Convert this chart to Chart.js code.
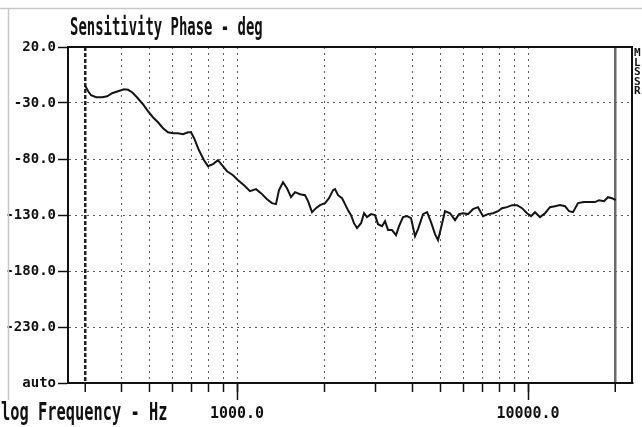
<!DOCTYPE html>
<html lang="en">
<head>
    <meta charset="UTF-8">
    <title>Sensitivity Phase</title>
    <style>
        html, body { margin: 0; padding: 0; background: #fff; }
        #grafico { display: block; }
    </style>
</head>
<body>
    <canvas id="grafico" width="642" height="427"></canvas>

    <script src="https://cdn.jsdelivr.net/npm/chart.js"></script>
    <script>
        // values
        const freqHz = [
            300, 308, 315, 328, 344, 358, 372, 390, 409, 422,
            436, 453, 475, 495, 514, 535, 557, 579, 603, 627,
            652, 679, 695, 712, 740, 770, 795, 827, 860, 888,
            924, 969, 1008, 1057, 1108, 1162, 1209, 1268, 1319, 1361,
            1394, 1439, 1485, 1533, 1582, 1646, 1713, 1754, 1810, 1868,
            1928, 2006, 2071, 2138, 2172, 2224, 2296, 2350, 2407, 2465,
            2523, 2584, 2668, 2732, 2797, 2887, 2980, 3051, 3150, 3226,
            3303, 3409, 3519, 3604, 3719, 3839, 3962, 4090, 4188, 4358,
            4498, 4642, 4791, 4906, 5023, 5185, 5395, 5613, 5793, 5978,
            6219, 6471, 6732, 7004, 7287, 7581, 7888, 8142, 8470, 8811,
            9168, 9537, 9921, 10240, 10570, 11000, 11440, 11900, 12380, 12880,
            13400, 13830, 14280, 14850, 15570, 16330, 16990, 17540, 18250, 18830,
            19440, 20000
        ];
        const phaseDeg = [
            -14.2, -19.5, -23.1, -24.9, -24.9, -24.0, -21.3, -19.5, -17.7, -18.2,
            -20.4, -24.9, -31.1, -37.4, -42.7, -47.2, -52.5, -56.1, -57.0, -57.0,
            -57.9, -56.1, -56.1, -61.4, -72.2, -81.1, -86.4, -84.6, -81.1, -85.5,
            -90.9, -94.5, -98.9, -103.4, -108.7, -106.9, -110.5, -115.9, -119.4, -120.3,
            -107.8, -100.7, -106.1, -114.1, -109.6, -111.4, -112.3, -117.6, -127.5, -123.9,
            -121.2, -119.4, -115.0, -107.8, -106.9, -112.3, -115.0, -120.3, -125.7, -130.1,
            -137.3, -141.7, -137.3, -128.4, -131.9, -129.2, -130.1, -138.2, -140.0, -135.5,
            -143.5, -143.5, -148.0, -140.0, -131.9, -131.0, -132.8, -148.9, -142.6, -129.2,
            -127.5, -136.4, -147.1, -152.4, -141.7, -126.6, -128.4, -134.6, -129.2, -128.4,
            -129.2, -124.8, -123.0, -131.0, -129.2, -128.4, -126.6, -123.9, -123.0, -121.2,
            -121.2, -123.9, -128.4, -131.0, -127.5, -131.9, -128.4, -123.0, -122.1, -121.2,
            -122.1, -126.6, -127.5, -119.4, -118.5, -118.5, -118.5, -116.8, -117.6, -114.1,
            -115.0, -116.8
        ];

        const gridFreqs = [300, 400, 500, 600, 700, 800, 900, 1000,
                           2000, 3000, 4000, 5000, 6000, 7000, 8000, 9000, 10000, 20000];
        const freqLabels = { 1000: '1000.0', 10000: '10000.0' };
        const markerFreqs = [300, 20000];
        const phaseTicks = [20, -30, -80, -130, -180, -230, -280];

        const monoFont = '"DejaVu Sans Mono", "Liberation Mono", monospace';

        // frame, long decade ticks and the plotter's text
        const moldura = {
            id: 'moldura',
            afterDraw(chart) {
                const { ctx, chartArea: a, scales: { x } } = chart;
                ctx.save();

                // edges of the scanned sheet
                ctx.strokeStyle = '#c6c6c6';
                ctx.lineWidth = 1.5;
                ctx.beginPath();
                ctx.moveTo(0, 8.5); ctx.lineTo(642, 8.5);
                ctx.moveTo(8.5, 8.5); ctx.lineTo(8.5, 400);
                ctx.stroke();

                // top and right side of the box
                ctx.strokeStyle = '#111';
                ctx.lineWidth = 2;
                ctx.beginPath();
                ctx.moveTo(a.left, a.top);
                ctx.lineTo(a.right, a.top);
                ctx.lineTo(a.right, a.bottom);
                ctx.stroke();

                // longer ticks at the labelled decades
                ctx.lineWidth = 1.5;
                Object.keys(freqLabels).forEach(f => {
                    const px = Math.round(x.getPixelForValue(Number(f))) + 0.5;
                    ctx.beginPath();
                    ctx.moveTo(px, a.bottom);
                    ctx.lineTo(px, a.bottom + 17);
                    ctx.stroke();
                });

                ctx.fillStyle = '#111';
                ctx.textBaseline = 'alphabetic';
                ctx.font = 'bold 24px ' + monoFont;

                ctx.save();
                ctx.translate(70, 35);
                ctx.scale(0.58, 1);
                ctx.fillText('Sensitivity Phase - deg', 0, 0);
                ctx.restore();

                ctx.save();
                ctx.translate(1, 420);
                ctx.scale(0.64, 1);
                ctx.fillText('log Frequency - Hz', 0, 0);
                ctx.restore();

                // cut-off labels at the right edge
                ctx.font = 'bold 11px ' + monoFont;
                ['M', 'L', 'S', 'S', 'R'].forEach((c, i) => {
                    ctx.fillText(c, 634, 56 + i * 9.5);
                });

                ctx.restore();
            }
        };

        const ctxFase = document.getElementById('grafico').getContext('2d');

        const grafico = new Chart(ctxFase, {
            type: 'line',
            data: {
                datasets: [
                    {
                        label: 'Sensitivity Phase',
                        data: freqHz.map((f, i) => ({ x: f, y: phaseDeg[i] })),
                        borderColor: '#141414',
                        borderWidth: 2,
                        pointRadius: 0,
                        tension: 0,
                        fill: false
                    }
                ]
            },
            options: {
                responsive: false,
                maintainAspectRatio: false,
                animation: false,
                layout: { padding: { top: 47, right: 10, left: 0, bottom: 0 } },
                plugins: {
                    legend: { display: false },
                    tooltip: { enabled: false },
                    title: { display: false }
                },
                scales: {
                    x: {
                        type: 'logarithmic',
                        min: 262.5,
                        max: 22770,
                        afterBuildTicks: scale => {
                            scale.ticks = gridFreqs.map(v => ({ value: v }));
                        },
                        afterFit: scale => { scale.height = 44; },
                        ticks: {
                            autoSkip: false,
                            maxRotation: 0,
                            padding: 13,
                            color: '#111',
                            font: { family: monoFont, size: 15, weight: 'bold' },
                            callback: value => freqLabels[value] || ''
                        },
                        grid: {
                            color: c => c.tick && markerFreqs.includes(c.tick.value)
                                ? (c.tick.value === 300 ? '#222' : '#6a6a6a') : '#5a5a5a',
                            lineWidth: c => c.tick && markerFreqs.includes(c.tick.value) ? 2.5 : 1,
                            tickLength: 9,
                            tickColor: '#111',
                            tickWidth: 1.5,
                            tickBorderDash: []
                        },
                        border: {
                            color: '#111',
                            width: 2,
                            dash: c => (c.tick && c.tick.value === 20000) ? [] :
                                (c.tick && c.tick.value === 300 ? [4, 2] : [2, 4])
                        }
                    },
                    y: {
                        min: -280,
                        max: 20,
                        afterBuildTicks: scale => {
                            scale.ticks = phaseTicks.map(v => ({ value: v }));
                        },
                        afterFit: scale => { scale.width = 68; },
                        ticks: {
                            padding: 2,
                            color: '#111',
                            font: { family: monoFont, size: 14, weight: 'bold' },
                            callback: value => value === -280 ? 'auto' : value.toFixed(1)
                        },
                        grid: {
                            color: '#5a5a5a',
                            lineWidth: 1,
                            tickLength: 10,
                            tickColor: '#111',
                            tickWidth: 1.5,
                            tickBorderDash: []
                        },
                        border: {
                            color: '#111',
                            width: 2,
                            dash: [2, 4]
                        }
                    }
                }
            },
            plugins: [moldura]
        });
    </script>
</body>
</html>
